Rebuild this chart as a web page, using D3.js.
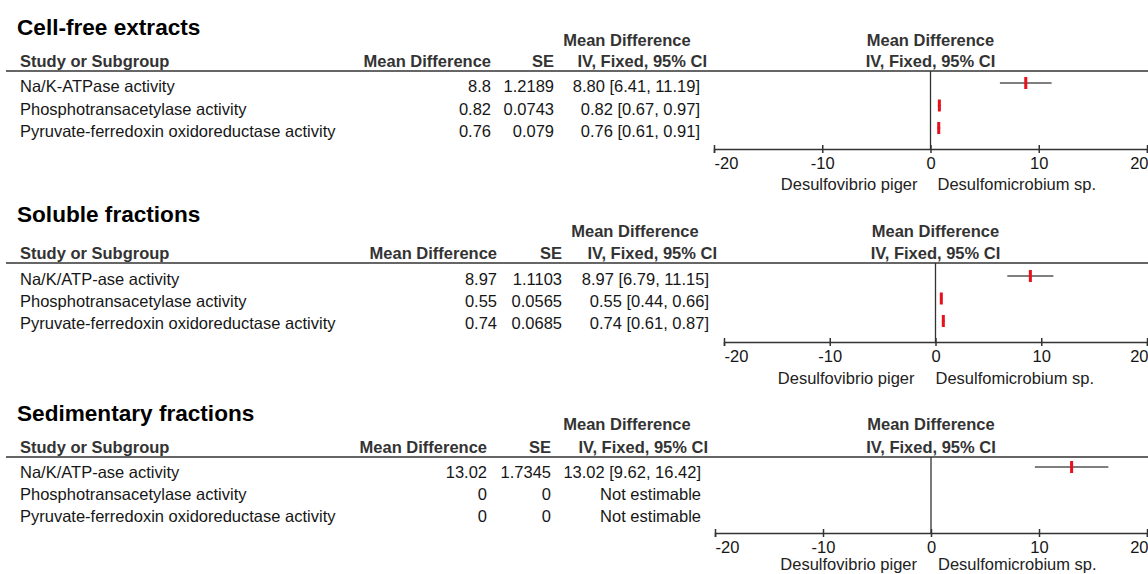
<!DOCTYPE html>
<html><head><meta charset="utf-8">
<script src="https://cdn.jsdelivr.net/npm/d3@7"></script>
<style>
html,body{margin:0;padding:0;background:#fff;}
svg{display:block;font-family:"Liberation Sans",Arial,Helvetica,sans-serif;}
</style></head><body>
<svg id="chart" width="1148" height="574"></svg>
<script>
// ---------- data ----------
const panelTitles = ["Cell-free extracts", "Soluble fractions", "Sedimentary fractions"];
const subgroups1 = ["Na/K-ATPase activity", "Phosphotransacetylase activity", "Pyruvate-ferredoxin oxidoreductase activity"];
const subgroups2 = ["Na/K/ATP-ase activity", "Phosphotransacetylase activity", "Pyruvate-ferredoxin oxidoreductase activity"];
const subgroups3 = ["Na/K/ATP-ase activity", "Phosphotransacetylase activity", "Pyruvate-ferredoxin oxidoreductase activity"];
const meanDiff1 = [8.8, 0.82, 0.76];
const se1 = [1.2189, 0.0743, 0.079];
const ciLow1 = [6.41, 0.67, 0.61];
const ciHigh1 = [11.19, 0.97, 0.91];
const meanDiff2 = [8.97, 0.55, 0.74];
const se2 = [1.1103, 0.0565, 0.0685];
const ciLow2 = [6.79, 0.44, 0.61];
const ciHigh2 = [11.15, 0.66, 0.87];
const meanDiff3 = [13.02, 0, 0];
const se3 = [1.7345, 0, 0];
const ciLow3 = [9.62, null, null];
const ciHigh3 = [16.42, null, null];
const axisTicks = [-20, -10, 0, 10, 20];
const tickLabels = ["-20", "-10", "0", "10", "20"];
const axisDomain = [-20, 20];
const favoursLeft = "Desulfovibrio piger";
const favoursRight = "Desulfomicrobium sp.";
const colHeaders = ["Study or Subgroup", "Mean Difference", "SE", "Mean Difference", "IV, Fixed, 95% CI"];

// ---------- layout ----------
const layout = [
  {titleY:35, topHeadY:46, subHeadY:67, lineY:71, rowY:[92,114.5,137], markY:[83,105.5,128], axisY:149, legY:190,
   x0:714, x1:1147, mdX:491, seX:554, ciX:700, ciHeadX:707, topHeadCx:627, legL:-13, legR:7},
  {titleY:222, topHeadY:237, subHeadY:259, lineY:263, rowY:[285,307,329], markY:[276,298.5,321], axisY:342, legY:384,
   x0:724, x1:1147, mdX:497, seX:562, ciX:709, ciHeadX:717, topHeadCx:635, legL:-21, legR:0},
  {titleY:421, topHeadY:430, subHeadY:453, lineY:457, rowY:[478,500,522], markY:[467,489,511], axisY:533, legY:570,
   x0:715, x1:1147, mdX:487, seX:551, ciX:701, ciHeadX:708, topHeadCx:627, legL:-14, legR:7}
];

const panels = [
  {title:panelTitles[0], names:subgroups1, md:meanDiff1, se:se1, lo:ciLow1, hi:ciHigh1},
  {title:panelTitles[1], names:subgroups2, md:meanDiff2, se:se2, lo:ciLow2, hi:ciHigh2},
  {title:panelTitles[2], names:subgroups3, md:meanDiff3, se:se3, lo:ciLow3, hi:ciHigh3}
];

const svg = d3.select("#chart");
const FS = 16.5;
const headColor = "#333";
const textColor = "#161616";

panels.forEach((p, i) => {
  const L = layout[i];
  const g = svg.append("g");
  const x = d3.scaleLinear().domain(axisDomain).range([L.x0, L.x1]);

  // title
  g.append("text").attr("x", 17).attr("y", L.titleY).attr("font-size", 22.6).attr("font-weight", "bold")
    .attr("fill", "#000").text(p.title);

  // headers
  const head = (txt, xx, yy, anchor) => g.append("text").attr("x", xx).attr("y", yy)
    .attr("font-size", FS).attr("font-weight", "bold").attr("fill", headColor)
    .attr("text-anchor", anchor).text(txt);
  head(colHeaders[0], 20, L.subHeadY, "start");
  head(colHeaders[1], L.mdX, L.subHeadY, "end");
  head(colHeaders[2], L.seX, L.subHeadY, "end");
  head(colHeaders[3], L.topHeadCx, L.topHeadY, "middle");
  head(colHeaders[4], L.ciHeadX, L.subHeadY, "end");
  head(colHeaders[3], x(0), L.topHeadY, "middle");
  head(colHeaders[4], x(0), L.subHeadY, "middle");

  // header rule
  g.append("line").attr("x1", 6).attr("x2", 1148).attr("y1", L.lineY).attr("y2", L.lineY)
    .attr("stroke", "#333").attr("stroke-width", 1.5);

  // rows
  p.names.forEach((name, j) => {
    const y = L.rowY[j];
    const t = (txt, xx, anchor) => g.append("text").attr("x", xx).attr("y", y).attr("font-size", FS)
      .attr("fill", textColor).attr("text-anchor", anchor).text(txt);
    t(name, 20, "start");
    t(String(p.md[j]), L.mdX, "end");
    t(String(p.se[j]), L.seX, "end");
    const est = p.se[j] !== 0 && p.lo[j] !== null;
    t(est ? `${p.md[j].toFixed(2)} [${p.lo[j].toFixed(2)}, ${p.hi[j].toFixed(2)}]` : "Not estimable", L.ciX, "end");
    if (est) {
      g.append("line").attr("x1", x(p.lo[j])).attr("x2", x(p.hi[j]))
        .attr("y1", L.markY[j]).attr("y2", L.markY[j]).attr("stroke", "#555").attr("stroke-width", 1.3);
      g.append("rect").attr("x", x(p.md[j]) - 1.5).attr("y", L.markY[j] - 6)
        .attr("width", 3).attr("height", 12).attr("fill", "#e8101c");
    }
  });

  // zero line
  g.append("line").attr("x1", x(0)).attr("x2", x(0)).attr("y1", L.lineY).attr("y2", L.axisY)
    .attr("stroke", "#333").attr("stroke-width", 1.3);

  // axis
  const ax = g.append("g").attr("transform", `translate(0,${L.axisY})`)
    .call(d3.axisBottom(x).tickValues(axisTicks).tickSizeOuter(0).tickSize(4)
      .tickFormat((d, k) => tickLabels[k]));
  ax.attr("font-family", null).attr("font-size", null);
  ax.select(".domain").attr("stroke", "#333").attr("stroke-width", 1.5);
  ax.selectAll(".tick line").attr("y1", -4).attr("y2", 4).attr("stroke", "#333").attr("stroke-width", 1.5);
  ax.selectAll(".tick text").attr("y", 20).attr("dy", 0).attr("font-size", 16.5)
    .attr("fill", textColor)
    .attr("text-anchor", (d, k) => k === 0 ? "start" : (k === axisTicks.length - 1 ? "end" : "middle"))
    .attr("x", (d, k) => k === 0 ? 0 : (k === axisTicks.length - 1 ? 1 : 0));

  // favours labels
  g.append("text").attr("x", x(0) + L.legL).attr("y", L.legY).attr("font-size", FS)
    .attr("fill", "#222").attr("text-anchor", "end").text(favoursLeft);
  g.append("text").attr("x", x(0) + L.legR).attr("y", L.legY).attr("font-size", FS)
    .attr("fill", "#222").attr("text-anchor", "start").text(favoursRight);
});
</script>
</body></html>
